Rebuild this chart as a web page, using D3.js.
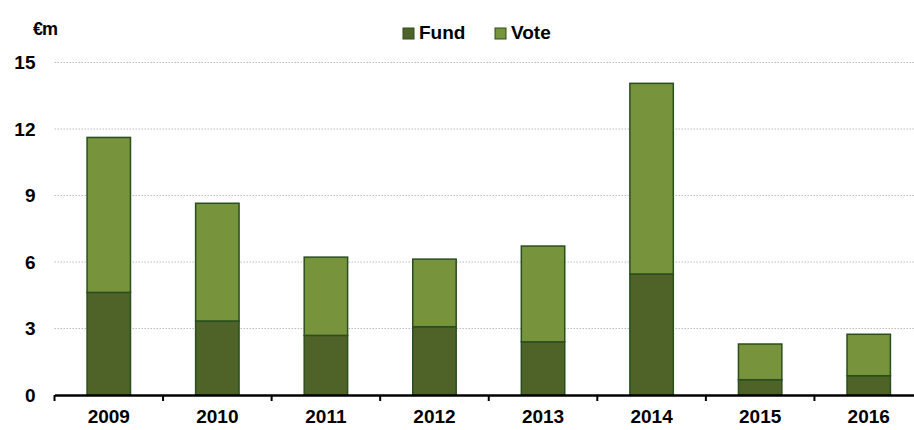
<!DOCTYPE html>
<html>
<head>
<meta charset="utf-8">
<script src="https://cdn.jsdelivr.net/npm/d3@7"></script>
<style>
  body { margin: 0; background: #fff; }
  svg { display: block; font-family: "Liberation Sans", Arial, sans-serif; }
</style>
</head>
<body>
<svg id="chart" width="914" height="430"></svg>
<script>
const years = ['2009', '2010', '2011', '2012', '2013', '2014', '2015', '2016'];
const fund = [4.63, 3.34, 2.69, 3.08, 2.40, 5.46, 0.69, 0.87];
const vote = [6.99, 5.31, 3.53, 3.05, 4.32, 8.60, 1.61, 1.87];
const yTicks = [0, 3, 6, 9, 12, 15];
const seriesNames = ['Fund', 'Vote'];
const colors = { Fund: '#4f6228', Vote: '#77933c' };

const svg = d3.select('#chart');
const margin = { top: 62.5, right: -9, bottom: 35, left: 54.5 };
const width = 914 - margin.left - margin.right;
const height = 430 - margin.top - margin.bottom;

const rows = years.map((y, i) => ({ year: y, Fund: fund[i], Vote: vote[i] }));
const stacked = d3.stack().keys(seriesNames)(rows);

const x = d3.scaleBand().domain(years).range([0, width]).paddingInner(0.6).paddingOuter(0.3);
const xTick = d3.scaleBand().domain(years).range([0, width]);
const y = d3.scaleLinear().domain([0, 15]).range([height, 0]);

const chart = svg.append('g').attr('transform', `translate(${margin.left},${margin.top})`);

// gridlines
chart.append('g')
  .selectAll('line')
  .data(yTicks.filter(d => d > 0))
  .enter().append('line')
  .attr('x1', 0).attr('x2', width)
  .attr('y1', d => y(d)).attr('y2', d => y(d))
  .attr('stroke', '#bdbdbd')
  .attr('stroke-width', 1)
  .attr('stroke-dasharray', '1.5,1.5');

// y axis labels
const yAxis = chart.append('g')
  .call(d3.axisLeft(y).tickValues(yTicks).tickSize(0).tickPadding(19));
yAxis.select('.domain').remove();
yAxis.selectAll('text')
  .attr('font-family', '"Liberation Sans", Arial, sans-serif')
  .attr('font-size', 19).attr('font-weight', 'bold').attr('fill', '#000');

// bars
chart.append('g')
  .selectAll('g')
  .data(stacked)
  .enter().append('g')
  .attr('fill', d => colors[d.key])
  .selectAll('rect')
  .data(d => d)
  .enter().append('rect')
  .attr('x', d => x(d.data.year))
  .attr('width', x.bandwidth())
  .attr('y', d => y(d[1]))
  .attr('height', d => y(d[0]) - y(d[1]))
  .attr('stroke', '#2a4f1f')
  .attr('stroke-width', 1.5);

// x axis
const xAxis = chart.append('g')
  .attr('transform', `translate(0,${height})`)
  .call(d3.axisBottom(xTick).tickSize(0).tickPadding(15));
xAxis.select('.domain').attr('stroke', '#000').attr('stroke-width', 2.5);
xAxis.selectAll('text')
  .attr('font-family', '"Liberation Sans", Arial, sans-serif')
  .attr('font-size', 19).attr('font-weight', 'bold').attr('fill', '#000');
xAxis.append('g')
  .selectAll('line')
  .data(years)
  .enter().append('line')
  .attr('x1', d => xTick(d)).attr('x2', d => xTick(d))
  .attr('y1', 0).attr('y2', 6)
  .attr('stroke', '#000').attr('stroke-width', 2);

// unit label
svg.append('text')
  .attr('x', 33).attr('y', 35)
  .attr('font-size', 18).attr('font-weight', 'bold')
  .attr('letter-spacing', -1)
  .text('€m');

// legend
const legendX = [403, 495];
const legend = svg.append('g');
seriesNames.forEach((name, i) => {
  legend.append('rect')
    .attr('x', legendX[i]).attr('y', 28)
    .attr('width', 11).attr('height', 11)
    .attr('fill', colors[name])
    .attr('stroke', '#2a4f1f').attr('stroke-width', 1);
  legend.append('text')
    .attr('x', legendX[i] + 16).attr('y', 39)
    .attr('font-size', 19).attr('font-weight', 'bold')
    .text(name);
});
</script>
</body>
</html>
